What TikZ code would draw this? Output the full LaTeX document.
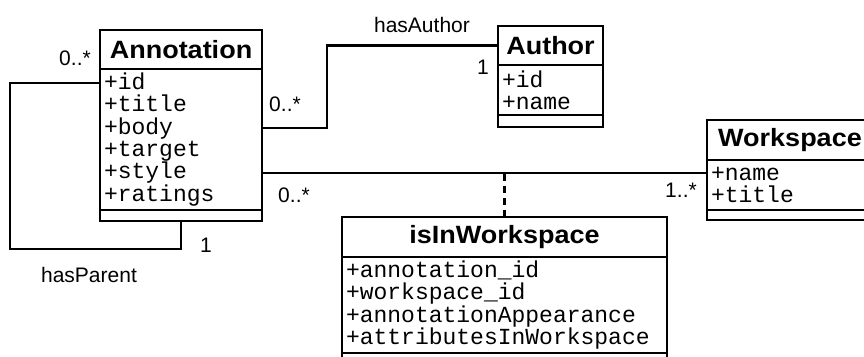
\documentclass[tikz,border=0pt]{standalone}
\usepackage{fontspec}
\setmainfont{Liberation Sans}
\setmonofont{Liberation Mono}
\newfontfamily\clsfont{Liberation Sans}[FakeStretch=1.08]
\usetikzlibrary{positioning}

\begin{document}
\begin{tikzpicture}[
    x=1pt, y=1pt,
    ctitle/.style={rectangle, draw, line width=2.2pt, outer sep=0pt, minimum height=39pt, font=\clsfont\fontsize{25}{30}\selectfont\bfseries},
    cattr/.style={rectangle, draw, line width=2.2pt, outer sep=0pt, align=left, inner xsep=4pt, inner ysep=1pt, font=\fontsize{23}{22.3}\selectfont\ttfamily},
    cfoot/.style={rectangle, draw, line width=2.2pt, outer sep=0pt, inner sep=0pt, minimum height=11pt},
    assoc/.style={line width=2.2pt},
    mult/.style={font=\fontsize{21}{25}\selectfont}
]
    \useasboundingbox (0,0) rectangle (864,356);
    % classes
    \node[ctitle, minimum width=162pt, anchor=north west] (annt) at (100,326) {Annotation};
    \node[cattr, text width=154pt, minimum height=141pt, below=0pt of annt] (anna) {+id\\+title\\+body\\+target\\+style\\+ratings};
    \node[cfoot, minimum width=162pt, below=0pt of anna] (annf) {};

    \node[ctitle, minimum width=105pt, anchor=north west] (autt) at (498,330) {Author};
    \node[cattr, text width=97pt, minimum height=50pt, below=0pt of autt] (auta) {+id\\+name};
    \node[cfoot, minimum width=105pt, minimum height=12pt, below=0pt of auta] (autf) {};

    \node[ctitle, minimum width=166pt, minimum height=40pt, anchor=north west] (wst) at (707,236) {Workspace};
    \node[cattr, text width=158pt, minimum height=50pt, below=0pt of wst] (wsa) {+name\\+title};
    \node[cfoot, minimum width=166pt, minimum height=10pt, below=0pt of wsa] (wsf) {};

    \node[ctitle, minimum width=325pt, minimum height=40pt, anchor=north west] (iwt) at (342,139) {isInWorkspace};
    \node[cattr, text width=317pt, minimum height=96pt, below=0pt of iwt] (iwa) {+annotation\_id\\+workspace\_id\\+annotationAppearance\\+attributesInWorkspace};
    \node[cfoot, minimum width=325pt, minimum height=12pt, below=0pt of iwa] (iwf) {};

    % associations
    \draw[assoc] (autt.west) -- ++(-171,0) |- ([yshift=-59pt]anna.north east);
    \coordinate (wslink) at ([yshift=-13pt]wsa.north west);
    \draw[assoc] (wslink) -- (wslink -| anna.east);
    \draw[assoc, dash pattern=on 7pt off 5pt] (iwt.north) -- (iwt.north |- wslink);
    \draw[assoc] ([yshift=-14pt]anna.north west) -| ([shift={(-171pt,-28pt)}]annf.south) -| (annf.south);

    % multiplicities and role names
    \node[mult] (mparent) at (75,298) {0..*};
    \node[mult] (oneparent) at (206,111) {1};
    \node[mult] (lparent) at (89,81) {hasParent};
    \node[mult] (mauthor) at (285,252) {0..*};
    \node[mult] (oneauthor) at (483,289) {1};
    \node[mult] (lauthor) at (422,331) {hasAuthor};
    \node[mult] (mws) at (294,161) {0..*};
    \node[mult] (mwsone) at (681,166) {1..*};
\end{tikzpicture}
\end{document}
